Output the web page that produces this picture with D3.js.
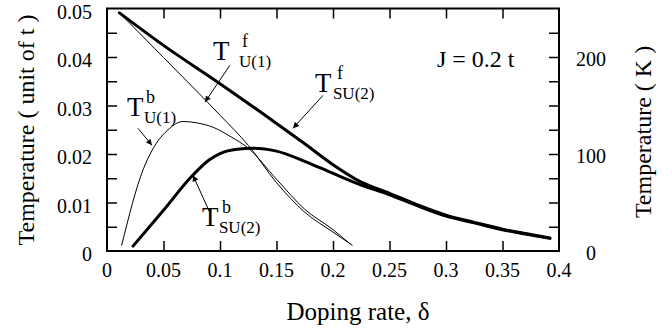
<!DOCTYPE html>
<html>
<head>
<meta charset="utf-8">
<script src="https://cdn.jsdelivr.net/npm/d3@7"></script>
<style>
  body { margin: 0; background: #fff; }
  text { font-family: "Liberation Serif", "Times New Roman", serif; fill: #000; }
</style>
</head>
<body>
<svg id="chart" width="672" height="328"></svg>
<script>
// doping rate ticks and labels
const xTicks = [0, 0.05, 0.1, 0.15, 0.2, 0.25, 0.3, 0.35, 0.4];
const xTickLabels = ['0', '0.05', '0.1', '0.15', '0.2', '0.25', '0.3', '0.35', '0.4'];
const yTicks = [0, 0.01, 0.02, 0.03, 0.04, 0.05];
const yTickLabels = ['0', '0.01', '0.02', '0.03', '0.04', '0.05'];
const kTicks = [0, 100, 200];
const kTickLabels = ['0', '100', '200'];

// T^f SU(2)  (thick, upper)
const fSU2Doping = [0.011, 0.05, 0.1, 0.15, 0.175, 0.2, 0.225, 0.25, 0.275, 0.3, 0.325, 0.35, 0.375, 0.392];
const fSU2Temp   = [0.0491, 0.0424, 0.0345, 0.0263, 0.0221, 0.0178, 0.0142, 0.0119, 0.0095, 0.0074, 0.0059, 0.0045, 0.0034, 0.0027];

// T^b SU(2)  (thick, lower)
const bSU2Doping = [0.023, 0.05, 0.075, 0.09, 0.1, 0.115, 0.13, 0.15, 0.175, 0.2, 0.225, 0.25, 0.275, 0.3, 0.325, 0.35, 0.375, 0.392];
const bSU2Temp   = [0.001, 0.0084, 0.0154, 0.0187, 0.0201, 0.021, 0.0212, 0.0206, 0.0185, 0.016, 0.0136, 0.0116, 0.0093, 0.0072, 0.0058, 0.0044, 0.0033, 0.0026];

// T^f U(1)  (thin, straight-ish)
const fU1Doping = [0.011, 0.05, 0.1, 0.125, 0.15, 0.175, 0.2, 0.217];
const fU1Temp   = [0.0491, 0.0399, 0.028, 0.0218, 0.0141, 0.008, 0.0039, 0.0012];

// T^b U(1)  (thin, dome)
const bU1Doping = [0.013, 0.032, 0.04, 0.055, 0.067, 0.08, 0.094, 0.11, 0.125, 0.15, 0.175, 0.2, 0.215];
const bU1Temp   = [0.0012, 0.0168, 0.0208, 0.0252, 0.0267, 0.0264, 0.0255, 0.0235, 0.0212, 0.0148, 0.0086, 0.0044, 0.0015];

const svg = d3.select('#chart');

const x = d3.scaleLinear().domain([0, 0.4]).range([107, 559]);
const y = d3.scaleLinear().domain([0, 0.05]).range([251, 8.5]);
const yK = d3.scaleLinear().domain([0, 250]).range([251, 8.5]);

// ticks (inward), no labels
svg.append('g')
    .attr('transform', `translate(0,${y(0)})`)
    .call(d3.axisBottom(x).tickValues(d3.range(1, 8).map(i => i * 0.05)).tickSize(-10).tickFormat(''));
svg.append('g')
    .attr('transform', `translate(0,${y(0.05)})`)
    .call(d3.axisTop(x).tickValues(d3.range(1, 8).map(i => i * 0.05)).tickSize(-10).tickFormat(''));
svg.append('g')
    .attr('transform', `translate(${x(0)},0)`)
    .call(d3.axisLeft(y).tickValues(d3.range(1, 10).map(i => i * 0.005)).tickSize(-10).tickFormat(''));
svg.append('g')
    .attr('transform', `translate(${x(0.4)},0)`)
    .call(d3.axisRight(yK).tickValues(d3.range(1, 10).map(i => i * 25)).tickSize(-10).tickFormat(''));
svg.selectAll('.domain').remove();
svg.selectAll('.tick line').attr('stroke', '#000').attr('stroke-width', 1.5);

// frame
svg.append('rect')
    .attr('x', x(0)).attr('y', y(0.05))
    .attr('width', x(0.4) - x(0)).attr('height', y(0) - y(0.05))
    .attr('fill', 'none').attr('stroke', '#000').attr('stroke-width', 2);

// tick labels
svg.append('g').selectAll('text').data(xTicks).join('text')
    .attr('x', d => x(d)).attr('y', 277)
    .attr('text-anchor', 'middle').attr('font-size', 20)
    .text((d, i) => xTickLabels[i]);
svg.append('g').selectAll('text').data(yTicks).join('text')
    .attr('x', 92).attr('y', d => y(d) + 10)
    .attr('text-anchor', 'end').attr('font-size', 20)
    .text((d, i) => yTickLabels[i]);
svg.append('g').selectAll('text').data(kTicks).join('text')
    .attr('x', 591).attr('y', d => yK(d) + 9)
    .attr('text-anchor', 'middle').attr('font-size', 20)
    .text((d, i) => kTickLabels[i]);

// axis titles
svg.append('text')
    .attr('transform', 'translate(34,130) rotate(-90)')
    .attr('text-anchor', 'middle').attr('font-size', 24)
    .text('Temperature ( unit of t )');
svg.append('text')
    .attr('transform', 'translate(651,132) rotate(-90)')
    .attr('text-anchor', 'middle').attr('font-size', 24)
    .text('Temperature ( K )');
svg.append('text')
    .attr('x', 358).attr('y', 320)
    .attr('text-anchor', 'middle').attr('font-size', 25)
    .text('Doping rate, δ');

// curves
const line = d3.line()
    .x(d => x(d[0]))
    .y(d => y(d[1]))
    .curve(d3.curveMonotoneX);

const series = [
  { d: fSU2Doping, t: fSU2Temp, w: 3 },
  { d: bSU2Doping, t: bSU2Temp, w: 3 },
  { d: fU1Doping, t: fU1Temp, w: 1 },
  { d: bU1Doping, t: bU1Temp, w: 1 }
];
svg.append('g').selectAll('path').data(series).join('path')
    .attr('d', s => line(s.d.map((v, i) => [v, s.t[i]])))
    .attr('fill', 'none').attr('stroke', '#000')
    .attr('stroke-width', s => s.w)
    .attr('stroke-linecap', 'round');

// arrows
svg.append('defs').append('marker')
    .attr('id', 'head')
    .attr('viewBox', '0 0 10 10')
    .attr('refX', 10).attr('refY', 5)
    .attr('markerUnits', 'userSpaceOnUse')
    .attr('markerWidth', 8).attr('markerHeight', 6)
    .attr('orient', 'auto')
    .append('path').attr('d', 'M0,0L10,5L0,10Z').attr('fill', '#000');

const arrows = [
  [0.1088, 0.0383, 0.0867, 0.0307],
  [0.1912, 0.0321, 0.1646, 0.0253],
  [0.0274, 0.0253, 0.0398, 0.0218],
  [0.0912, 0.0078, 0.0761, 0.0156]
];
svg.append('g').selectAll('line').data(arrows).join('line')
    .attr('x1', a => x(a[0])).attr('y1', a => y(a[1]))
    .attr('x2', a => x(a[2])).attr('y2', a => y(a[3]))
    .attr('stroke', '#000').attr('stroke-width', 1)
    .attr('marker-end', 'url(#head)');

// curve labels: T with stacked super/subscript
const labels = [
  { d: 0.0938, v: 0.0393, sup: 'f', sub: 'U(1)', supDx: 29, subDx: 26 },
  { d: 0.184, v: 0.0327, sup: 'f', sub: 'SU(2)', supDx: 22, subDx: 18 },
  { d: 0.0177, v: 0.0278, sup: 'b', sub: 'U(1)', supDx: 19, subDx: 17 },
  { d: 0.084, v: 0.0051, sup: 'b', sub: 'SU(2)', supDx: 20, subDx: 17 }
];
const lab = svg.append('g').selectAll('g').data(labels).join('g')
    .attr('transform', l => `translate(${x(l.d)},${y(l.v)})`);
lab.append('text').attr('font-size', 27).text('T');
lab.append('text').attr('x', l => l.supDx).attr('y', -13).attr('font-size', 18).text(l => l.sup);
lab.append('text').attr('x', l => l.subDx).attr('y', 7).attr('font-size', 17).text(l => l.sub);

svg.append('text')
    .attr('x', x(0.292)).attr('y', y(0.038))
    .attr('font-size', 24)
    .text('J = 0.2 t');
</script>
</body>
</html>
